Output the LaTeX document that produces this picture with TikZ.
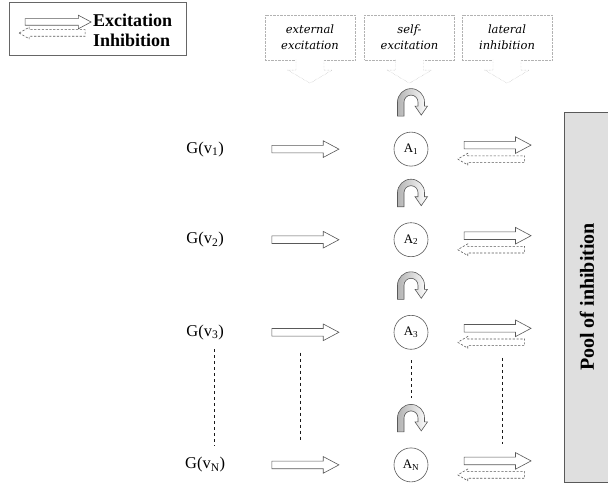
\documentclass[tikz,border=0pt]{standalone}
\usepackage{fontspec}
\setmainfont{Liberation Serif}
\newfontfamily\boxfont{DejaVu Serif}
\usetikzlibrary{matrix}
\usetikzlibrary{shapes.arrows}
\usetikzlibrary{positioning}

\begin{document}
\begin{tikzpicture}[x=1pt,y=-1pt,
outline/.style={draw=gray!70!black,line width=0.6pt},
exc/.style={outline,fill=white,single arrow,inner sep=3.5pt,minimum height=67pt,single arrow head extend=4.5pt,single arrow tip angle=56},
inh/.style={outline,dash pattern=on 2.2pt off 1.6pt,single arrow,shape border rotate=180,inner sep=3pt,minimum height=67pt,single arrow head extend=2.5pt,single arrow tip angle=60},
cell/.style={circle,outline,minimum size=34pt,inner sep=0pt,font=\fontsize{13}{14}\selectfont},
glabel/.style={minimum width=56pt,font=\fontsize{16.5}{18}\selectfont},
topbox/.style={draw=gray!60,densely dotted,minimum width=90pt,minimum height=45pt,align=center,font=\boxfont\itshape\fontsize{11.5}{16}\selectfont},
drop/.style={draw=gray!60,densely dotted,fill=white},
cont/.style={dashed,draw=gray!20!black},
selfexc/.pic={\draw[outline,left color=gray!60,right color=white] (-13.5,-16) -- (-13.5,-30) arc[start angle=180,end angle=360,radius=13.5] -- (13.5,-26) -- (16.5,-26) -- (10.25,-17) -- (4,-26) -- (7,-26) -- (7,-30) arc[start angle=360,end angle=180,radius=7] -- (-7,-16) -- cycle;}
]
\useasboundingbox (0,0) rectangle (608,487);

% legend
\node[draw=gray!80!black,minimum width=177pt,minimum height=53pt] (legend) at (97.5,28.5) {};
\node[exc,minimum height=66pt,inner sep=3pt,single arrow head extend=3.5pt] (lgexc) at (55,22) {};
\node[inh,minimum height=66pt] (lginh) at (55,33) {};
\node[anchor=west,inner sep=0pt,font=\bfseries\fontsize{18}{20}\selectfont] (txtexc) at (93,20) {Excitation};
\node[anchor=west,inner sep=0pt,font=\bfseries\fontsize{18}{20}\selectfont] (txtinh) at (93,40) {Inhibition};

% input boxes
\node[topbox] (extbox) at (310,37.5) {external\\excitation};
\node[topbox] (selfbox) at (409.5,37.5) {self-\\excitation};
\node[topbox] (latbox) at (507,37.5) {lateral\\inhibition};
\draw[drop] ([xshift=-14pt,yshift=0.5pt]extbox.south) -- ++(0,10.5) -- ++(-8,0) -- ++(22,13) -- ++(22,-13) -- ++(-8,0) -- ++(0,-10.5);
\draw[drop] ([xshift=-14pt,yshift=0.5pt]selfbox.south) -- ++(0,10.5) -- ++(-8,0) -- ++(22,13) -- ++(22,-13) -- ++(-8,0) -- ++(0,-10.5);
\draw[drop] ([xshift=-14pt,yshift=0.5pt]latbox.south) -- ++(0,10.5) -- ++(-8,0) -- ++(22,13) -- ++(22,-13) -- ++(-8,0) -- ++(0,-10.5);

\matrix (net) [%
matrix of nodes,
nodes in empty cells,
nodes={anchor=center,outer sep=0pt},
column 1/.style={nodes={glabel}},
column 2/.style={nodes={exc}},
column 3/.style={nodes={cell}},
column 4/.style={nodes={exc,yshift=4pt}},
column sep=0pt,
row sep=56pt,ampersand replacement=\&
] at (354.25,307)
{
	G(v\textsubscript{1}) \&[38.5pt] \&[54.5pt] A\textsubscript{1} \&[35.5pt] \\
	G(v\textsubscript{2}) \& \& A\textsubscript{2} \& \\[2pt]
	G(v\textsubscript{3}) \& \& A\textsubscript{3} \& \\[42pt]
	G(v\textsubscript{N}) \& \& A\textsubscript{N} \& \\
};
\node[inh,below=14pt of net-1-4.center,anchor=center] (inh1) {};
\node[inh,below=14pt of net-2-4.center,anchor=center] (inh2) {};
\node[inh,below=14pt of net-3-4.center,anchor=center] (inh3) {};
\node[inh,below=14pt of net-4-4.center,anchor=center] (inhN) {};
\pic at (net-1-3.north) {selfexc};
\pic at (net-2-3.north) {selfexc};
\pic at (net-3-3.north) {selfexc};
\pic at (net-4-3.north) {selfexc};

% dots between row 3 and row N
\draw[cont,shorten <=6pt,shorten >=8pt] ([xshift=9pt]net-3-1.south) -- ([xshift=9pt]net-4-1.north);
\draw[cont,shorten <=16.5pt,shorten >=18.5pt] ([xshift=-2pt]net-3-2.south) -- ([xshift=-2pt]net-4-2.north);
\draw[cont,shorten <=11pt,shorten >=50pt] (net-3-3) -- (net-4-3);
\draw[cont,shorten <=12pt,shorten >=13.5pt] ([xshift=8pt]inh3.south) -- ([xshift=8pt]net-4-4.north);

\node[draw=gray!70!black,fill=gray!25,rotate=90,minimum width=370pt,minimum height=46pt,font=\bfseries\fontsize{20}{22}\selectfont] (pool) at (587,297) {Pool of inhibition};
\end{tikzpicture}
\end{document}
